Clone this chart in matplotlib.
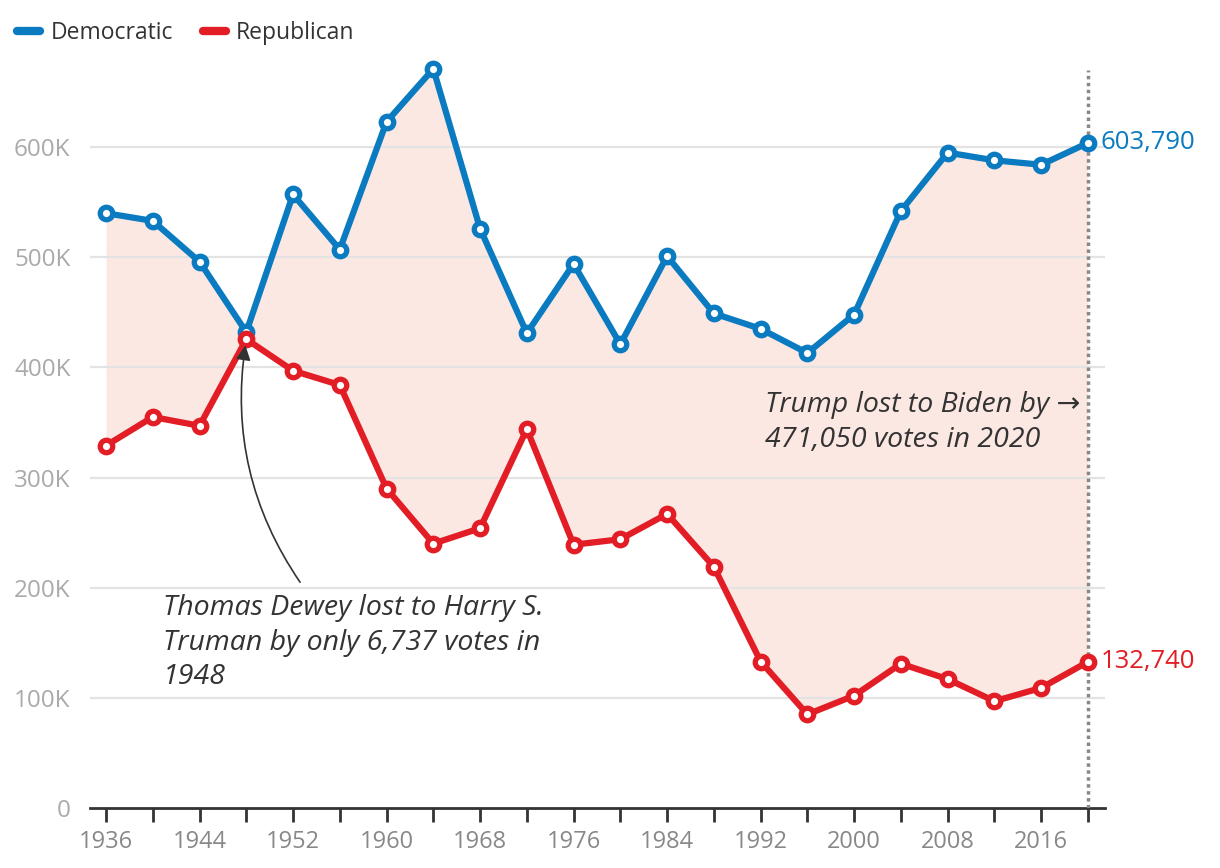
import numpy as np
import matplotlib.pyplot as plt
from matplotlib.ticker import FuncFormatter

years = list(range(1936, 2021, 4))
dem = [540, 533, 496, 432, 557, 507, 623, 671, 526, 431, 494, 421,
       501, 449, 435, 413, 448, 542, 595, 588, 584, 603.79]
rep = [329, 355, 347, 425.6, 397, 384, 290, 240, 254, 344, 239, 244,
       267, 219, 133, 85, 102, 131, 117, 97, 109, 132.74]
dem = np.array(dem) * 1000
rep = np.array(rep) * 1000

blue = '#0a7bc1'
red = '#e21d25'
dark = '#333333'

plt.rcParams['font.family'] = ['Open Sans', 'DejaVu Sans']

fig = plt.figure(figsize=(12.2, 8.68), dpi=100)
ax = fig.add_axes([90 / 1220, 1 - 808 / 868, (1105 - 90) / 1220, (808 - 70) / 868])

ax.fill_between(years, dem, rep, color='#fce8e3', lw=0, zorder=1)
for v in range(100000, 700000, 100000):
    ax.axhline(v, color='#e3e3e3', lw=1.6, zorder=2)

ax.axvline(2020, color='#888888', lw=2.5, ls=(0, (1, 1)), zorder=3)

for vals, c, name in [(dem, blue, 'Democratic'), (rep, red, 'Republican')]:
    ax.plot(years, vals, color=c, lw=4.5, marker='o', ms=9, mew=3.8,
            mfc='white', mec=c, zorder=4, solid_capstyle='round', label=name,
            clip_on=False)

ax.text(2021.1, dem[-1], '603,790', color=blue, fontsize=18.5, va='center', ha='left')
ax.text(2021.1, rep[-1], '132,740', color=red, fontsize=18.5, va='center', ha='left')

ax.text(1992.4, 350000, 'Trump lost to Biden by \u2192\n471,050 votes in 2020',
        style='italic', fontsize=20.5, color=dark, ha='left', va='center',
        linespacing=1.3, zorder=5)

ax.text(1940.9, 194000, 'Thomas Dewey lost to Harry S.\nTruman by only 6,737 votes in\n1948',
        style='italic', fontsize=20.5, color=dark, ha='left', va='top',
        linespacing=1.3, zorder=5)
ax.annotate('', xy=(1948, 425000), xytext=(1952.6, 205000), zorder=5,
            arrowprops=dict(arrowstyle='-|>', color=dark, lw=1.2,
                            connectionstyle='arc3,rad=-0.2',
                            shrinkA=0, shrinkB=4, mutation_scale=22))

ax.set_xlim(1934.63, 2021.46)
ax.set_ylim(0, 670000)
ax.set_xticks(years)
ax.set_xticklabels([str(y) if (y - 1936) % 8 == 0 else '' for y in years])
ax.set_yticks(range(0, 700000, 100000))
ax.yaxis.set_major_formatter(FuncFormatter(lambda v, p: '0' if v == 0 else f'{int(v / 1000)}K'))

for s in ['top', 'right', 'left']:
    ax.spines[s].set_visible(False)
ax.spines['bottom'].set_color(dark)
ax.spines['bottom'].set_linewidth(2)
ax.tick_params(axis='x', length=10, width=2, color=dark, labelcolor='#888888',
               labelsize=17, pad=6)
ax.tick_params(axis='y', length=0, labelcolor='#aaaaaa', labelsize=17.5, pad=14)

leg = fig.legend(loc='upper left', bbox_to_anchor=(0.014, 0.976), ncol=2, frameon=False,
                 fontsize=16.5, handlelength=1.0, handletextpad=0.45, columnspacing=1.3,
                 borderaxespad=0, borderpad=0)
for h in leg.legend_handles:
    h.set_marker('')
    h.set_linewidth(6)
    h.set_solid_capstyle('round')
for t in leg.get_texts():
    t.set_color(dark)

fig.savefig('out.png', dpi=100)
